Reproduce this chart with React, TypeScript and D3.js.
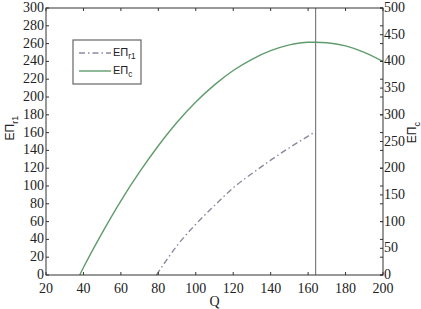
import * as d3 from "d3";
import React, { useEffect, useRef } from "react";

// Q values and expected profits
const qC = [38, 40, 50, 60, 70, 80, 90, 100, 110, 120, 130, 140, 150, 160, 164, 170, 180, 190, 200];
const piC = [0, 14, 79, 139, 193, 242, 286, 324, 356, 383, 404, 420, 431, 436, 436, 435, 429, 417, 400];

const qR1 = [79, 90, 100, 110, 120, 130, 140, 150, 160, 164];
const piR1 = [0, 33, 57, 78, 98, 114, 129, 143, 156, 161];

const qOpt = 164;

const xTicks = [20, 40, 60, 80, 100, 120, 140, 160, 180, 200];
const yLeftTicks = d3.range(0, 301, 20);
const yRightTicks = d3.range(0, 501, 50);

export default function App() {
    const ref = useRef<SVGSVGElement>(null);

    useEffect(() => {
        const width = 421;
        const height = 309;
        const m = { top: 8, right: 38, bottom: 34, left: 46 };
        const svg = d3.select(ref.current);
        svg.selectAll("*").remove();

        const x = d3.scaleLinear().domain([20, 200]).range([m.left, width - m.right]);
        const yL = d3.scaleLinear().domain([0, 300]).range([height - m.bottom, m.top]);
        const yR = d3.scaleLinear().domain([0, 500]).range([height - m.bottom, m.top]);

        const serif = "Liberation Serif, DejaVu Serif, Times New Roman, serif";
        const sans = "Liberation Sans, Arial, sans-serif";
        const axisColor = "#333";

        svg.append("rect")
            .attr("width", width)
            .attr("height", height)
            .attr("fill", "#fff");

        // curves
        const lineC = d3
            .line<number>()
            .x((d, i) => x(qC[i]))
            .y((d) => yR(d))
            .curve(d3.curveMonotoneX);
        svg.append("path")
            .attr("d", lineC(piC))
            .attr("fill", "none")
            .attr("stroke", "#5f9c6c")
            .attr("stroke-width", 1.4);

        const lineR1 = d3
            .line<number>()
            .x((d, i) => x(qR1[i]))
            .y((d) => yL(d))
            .curve(d3.curveMonotoneX);
        svg.append("path")
            .attr("d", lineR1(piR1))
            .attr("fill", "none")
            .attr("stroke", "#8a8a9e")
            .attr("stroke-width", 1.4)
            .attr("stroke-dasharray", "6,3,1.5,3");

        // vertical marker at optimal Q
        svg.append("line")
            .attr("x1", x(qOpt))
            .attr("x2", x(qOpt))
            .attr("y1", yL(0))
            .attr("y2", yL(300))
            .attr("stroke", "#7d7d85")
            .attr("stroke-width", 1.2);

        // frame
        svg.append("rect")
            .attr("x", m.left)
            .attr("y", m.top)
            .attr("width", width - m.left - m.right)
            .attr("height", height - m.top - m.bottom)
            .attr("fill", "none")
            .attr("stroke", axisColor)
            .attr("stroke-width", 1);

        const tk = 3;
        const g = svg.append("g").attr("stroke", axisColor).attr("stroke-width", 1);

        // x ticks top and bottom, inward
        xTicks.forEach((t) => {
            g.append("line").attr("x1", x(t)).attr("x2", x(t))
                .attr("y1", yL(0)).attr("y2", yL(0) - tk);
            g.append("line").attr("x1", x(t)).attr("x2", x(t))
                .attr("y1", yL(300)).attr("y2", yL(300) + tk);
        });
        // left ticks, mirrored on right side
        yLeftTicks.forEach((t) => {
            g.append("line").attr("x1", x(20)).attr("x2", x(20) + tk)
                .attr("y1", yL(t)).attr("y2", yL(t));
            g.append("line").attr("x1", x(200)).attr("x2", x(200) - tk)
                .attr("y1", yL(t)).attr("y2", yL(t));
        });
        // right axis ticks
        yRightTicks.forEach((t) => {
            g.append("line").attr("x1", x(200)).attr("x2", x(200) - tk)
                .attr("y1", yR(t)).attr("y2", yR(t));
        });

        // tick labels
        svg.append("g")
            .selectAll("text")
            .data(xTicks)
            .join("text")
            .attr("x", (d) => x(d))
            .attr("y", yL(0) + 18)
            .attr("text-anchor", "middle")
            .style("font-family", serif)
            .style("font-size", "14px")
            .attr("fill", "#222")
            .text((d) => d);

        svg.append("g")
            .selectAll("text")
            .data(yLeftTicks)
            .join("text")
            .attr("x", m.left - 2)
            .attr("y", (d) => yL(d) + 4)
            .attr("text-anchor", "end")
            .style("font-family", serif)
            .style("font-size", "14px")
            .attr("fill", "#222")
            .text((d) => d);

        svg.append("g")
            .selectAll("text")
            .data(yRightTicks)
            .join("text")
            .attr("x", x(200) + 1)
            .attr("y", (d) => yR(d) + 4)
            .attr("text-anchor", "start")
            .style("font-family", serif)
            .style("font-size", "14px")
            .attr("fill", "#222")
            .text((d) => d);

        // axis titles
        svg.append("text")
            .attr("x", x(110))
            .attr("y", yL(0) + 31)
            .attr("text-anchor", "middle")
            .style("font-family", serif)
            .style("font-size", "14px")
            .attr("fill", "#222")
            .text("Q");

        const subLabel = (sel: any, main: string, sub: string, size: number) => {
            sel.append("tspan").text(main);
            sel.append("tspan")
                .attr("dy", size * 0.3)
                .style("font-size", size * 0.75 + "px")
                .text(sub);
        };

        const leftTitle = svg.append("text")
            .attr("transform", `translate(14, ${yL(165)}) rotate(-90)`)
            .attr("text-anchor", "middle")
            .style("font-family", sans)
            .style("font-size", "12px")
            .attr("fill", "#222");
        subLabel(leftTitle, "ΕΠ", "r1", 12);

        const rightTitle = svg.append("text")
            .attr("transform", `translate(416, ${yL(160)}) rotate(-90)`)
            .attr("text-anchor", "middle")
            .style("font-family", sans)
            .style("font-size", "12px")
            .attr("fill", "#222");
        subLabel(rightTitle, "ΕΠ", "c", 12);

        // legend
        const lg = svg.append("g").attr("transform", "translate(73, 40)");
        lg.append("rect")
            .attr("width", 68)
            .attr("height", 44)
            .attr("fill", "#fff")
            .attr("stroke", "#666")
            .attr("stroke-width", 1.2);
        lg.append("line")
            .attr("x1", 6).attr("x2", 38).attr("y1", 13).attr("y2", 13)
            .attr("stroke", "#8a8a9e").attr("stroke-width", 1.4)
            .attr("stroke-dasharray", "6,3,1.5,3");
        lg.append("line")
            .attr("x1", 6).attr("x2", 38).attr("y1", 31).attr("y2", 31)
            .attr("stroke", "#5f9c6c").attr("stroke-width", 1.4);
        const l1 = lg.append("text").attr("x", 40).attr("y", 16)
            .style("font-family", sans).style("font-size", "11px").attr("fill", "#222");
        subLabel(l1, "ΕΠ", "r1", 11);
        const l2 = lg.append("text").attr("x", 40).attr("y", 34)
            .style("font-family", sans).style("font-size", "11px").attr("fill", "#222");
        subLabel(l2, "ΕΠ", "c", 11);
    }, []);

    return (
        <svg
            ref={ref}
            width={421}
            height={309}
            style={{ position: "absolute", left: 0, top: 0, display: "block" }}
        />
    );
}
